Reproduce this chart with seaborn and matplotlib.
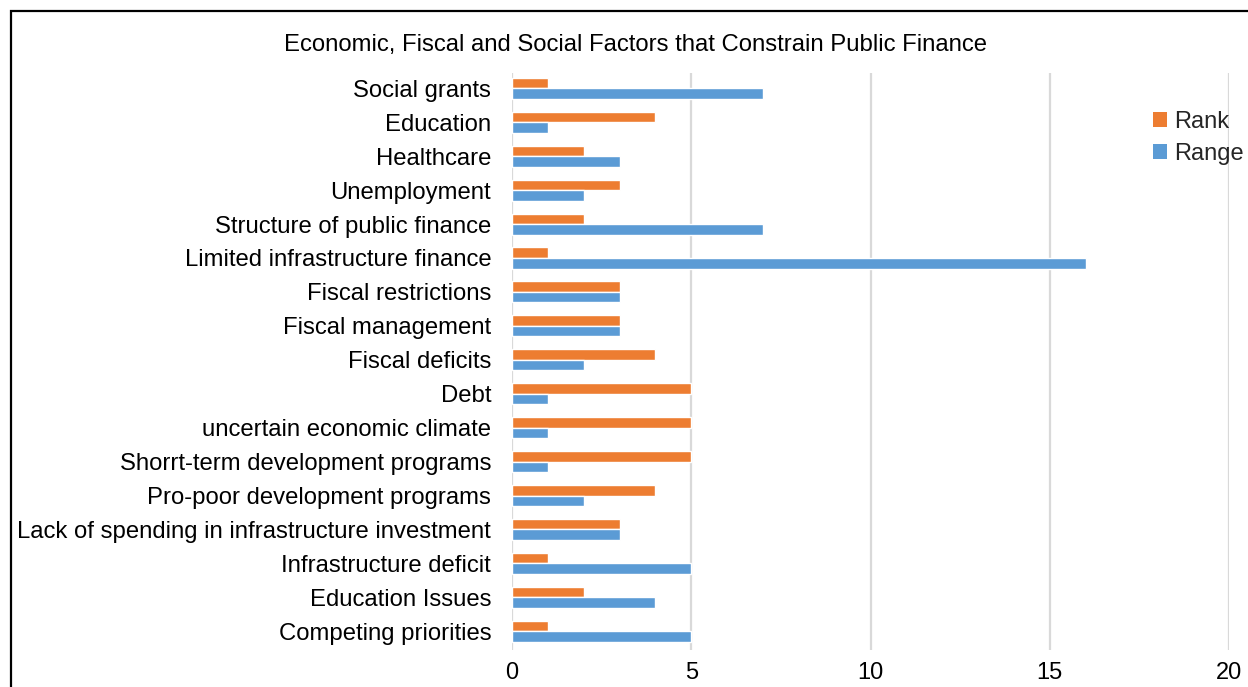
import matplotlib
matplotlib.use("Agg")
import matplotlib.pyplot as plt
import seaborn as sns
import pandas as pd
from matplotlib.patches import Rectangle, Patch

factors = [
    "Social grants", "Education", "Healthcare", "Unemployment",
    "Structure of public finance", "Limited infrastructure finance",
    "Fiscal restrictions", "Fiscal management", "Fiscal deficits", "Debt",
    "uncertain economic climate", "Shorrt-term development programs",
    "Pro-poor development programs",
    "Lack of spending in infrastructure investment",
    "Infrastructure deficit", "Education Issues", "Competing priorities",
]
rank = [1, 4, 2, 3, 2, 1, 3, 3, 4, 5, 5, 5, 4, 3, 1, 2, 1]
range_ = [7, 1, 3, 2, 7, 16, 3, 3, 2, 1, 1, 1, 2, 3, 5, 4, 5]
series = ["Rank", "Range"]
colors = ["#ED7D31", "#5B9BD5"]
x_ticks = [0, 5, 10, 15, 20]

df = pd.DataFrame({
    "Factor": factors * 2,
    "Value": rank + range_,
    "Series": ["Rank"] * len(factors) + ["Range"] * len(factors),
})

sns.set_theme(style="white")
plt.rcParams["font.family"] = ["Liberation Sans", "DejaVu Sans"]

fig = plt.figure(figsize=(12.48, 6.87), dpi=100)
ax = fig.add_axes([0.4103, 0.0539, 0.5745, 0.8398])

sns.barplot(data=df, y="Factor", x="Value", hue="Series", order=factors,
            hue_order=series, palette=colors, orient="h", width=0.62,
            saturation=1, ax=ax, legend=False)

ax.set_xlim(0, 20)
ax.set_ylim(len(factors) - 0.45, -0.45)
ax.set_xticks(x_ticks)
ax.set_xticklabels([str(t) for t in x_ticks], fontsize=17)
ax.tick_params(axis="x", length=0, pad=9)
ax.tick_params(axis="y", length=0, pad=15, labelsize=17.2)
for lbl in ax.get_yticklabels():
    lbl.set_color("#000000")
for lbl in ax.get_xticklabels():
    lbl.set_color("#000000")
ax.set_xlabel("")
ax.set_ylabel("")
for s in ax.spines.values():
    s.set_visible(False)
ax.grid(axis="x", color="#D9D9D9", linewidth=1.6)
ax.set_axisbelow(True)

handles = [Patch(facecolor=c, edgecolor="none") for c in colors]
fig.legend(handles, series, loc="upper left", bbox_to_anchor=(0.924, 0.838),
           frameon=False, fontsize=17, handlelength=0.6, handleheight=0.6,
           handletextpad=0.3, labelspacing=0.42, borderaxespad=0, borderpad=0)

fig.text(0.5096, 0.935, "Economic, Fiscal and Social Factors that Constrain Public Finance",
         ha="center", va="center", fontsize=17.2, color="#000000")

fig.patches.append(Rectangle((0.0088, -0.05), 1.05, 0.05 + 0.984,
                             transform=fig.transFigure, fill=False,
                             edgecolor="#000000", linewidth=1.6))

fig.savefig("out.png", dpi=100)
